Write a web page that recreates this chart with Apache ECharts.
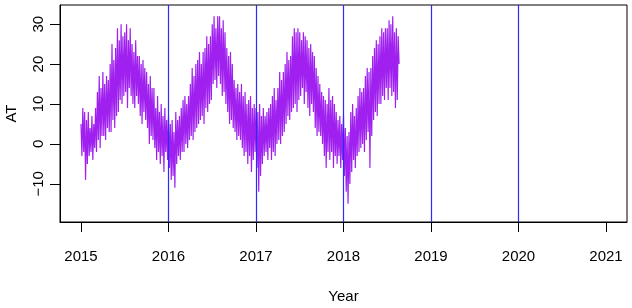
<!DOCTYPE html>
<html>
<head>
<meta charset="utf-8">
<script src="https://cdn.jsdelivr.net/npm/echarts@6/dist/echarts.min.js"></script>
<style>
	html, body { margin: 0; padding: 0; background: #fff; }
	#chart { width: 632px; height: 308px; }
</style>
</head>
<body>
<div id="chart"></div>
<script>
// x axis
var years = [2015, 2016, 2017, 2018, 2019, 2020, 2021];
// blue reference lines
var yearLines = [2016, 2017, 2018, 2019, 2020];
// y axis ticks
var atTicks = [-10, 0, 10, 20, 30];

// AT readings, 8 per month from 2015-01 (high/low swings)
var perYear = 96;
var at2015 = [
	5, -3, 9, -2, 8, -9, 6, -5,
	8, -3, 4, -2, 7, -4, 5, -1,
	9, -2, 13, 1, 17, -1, 14, 2,
	18, 2, 15, 1, 17, 4, 16, 3,
	20, 3, 25, 6, 21, 4, 24, 7,
	29, 8, 26, 11, 30, 10, 27, 12,
	28, 13, 30, 9, 26, 14, 29, 12,
	25, 10, 23, 9, 26, 12, 22, 10,
	22, 7, 20, 5, 21, 8, 19, 6,
	18, 4, 15, 0, 17, 2, 14, 1,
	14, -1, 9, -4, 12, -2, 8, -5,
	10, -3, 7, -7, 9, -2, 6, -4
];
var at2016 = [
	7, -6, 5, -9, 6, -8, 3, -11,
	8, -5, 6, -3, 7, -4, 9, -2,
	11, -2, 12, 0, 10, -1, 12, 1,
	15, 2, 19, 1, 17, 3, 20, 4,
	21, 5, 23, 6, 20, 7, 23, 5,
	24, 9, 27, 8, 25, 10, 27, 11,
	30, 15, 32, 16, 29, 14, 32, 17,
	32, 15, 29, 12, 31, 13, 28, 10,
	24, 8, 22, 5, 23, 6, 20, 4,
	16, 3, 14, 1, 15, 2, 13, 1,
	15, -1, 12, -3, 13, -2, 10, -5,
	11, -3, 12, -7, 9, -4, 10, -2
];
var at2017 = [
	9, -6, 8, -12, 10, -8, 7, -5,
	9, -3, 7, -2, 8, -4, 9, -1,
	10, -4, 12, -2, 14, -3, 11, 0,
	14, 1, 18, 0, 16, 2, 18, 3,
	20, 5, 23, 7, 21, 6, 22, 8,
	27, 9, 29, 10, 28, 8, 29, 11,
	28, 12, 26, 14, 28, 10, 27, 13,
	26, 9, 24, 7, 25, 10, 23, 8,
	22, 4, 19, 2, 17, 3, 15, 2,
	13, 0, 12, -3, 11, -6, 10, -2,
	14, -4, 11, -2, 12, -6, 10, -3,
	8, -5, 6, -3, 7, -6, 5, -4
];
var at2018 = [
	7, -8, 4, -12, 2, -15, 3, -10,
	8, -7, 10, -4, 7, -6, 9, -3,
	12, -2, 14, -1, 13, 0, 14, -2,
	17, 1, 19, 3, 18, -6, 19, 2,
	22, 6, 24, 8, 26, 7, 25, 10,
	27, 10, 29, 12, 28, 11, 29, 14,
	29, 11, 31, 14, 30, 12, 32, 13,
	28, 9, 29, 11, 27, 20
];

var atValues = at2015.concat(at2016, at2017, at2018);
var atData = [];
for (var i = 0; i < atValues.length; i++) {
	atData.push([years[0] + i / perYear, atValues[i]]);
}

var font = '"Liberation Sans Narrow", "Arial Narrow", "Liberation Sans", sans-serif';
var blue = '#2A2AFF';

var myChart = echarts.init(document.getElementById('chart'));

var option = {
	animation: false,
	backgroundColor: '#fff',
	grid: {
		left: 60,
		top: 5,
		width: 567,
		height: 217,
		outerBoundsMode: 'none',
		containLabel: false,
		show: true,
		borderColor: '#000',
		borderWidth: 1,
		backgroundColor: 'transparent'
	},
	xAxis: {
		type: 'value',
		min: 2014.76,
		max: 2021.24,
		name: 'Year',
		nameLocation: 'middle',
		nameGap: 67,
		nameTextStyle: { color: '#000', fontSize: 15, fontFamily: font },
		axisLine: { show: true, onZero: false, lineStyle: { color: '#000', width: 1 } },
		splitLine: { show: false },
		axisTick: {
			show: true,
			customValues: years,
			length: 10,
			lineStyle: { color: '#000', width: 1 }
		},
		axisLabel: {
			customValues: years,
			margin: 27,
			color: '#000',
			fontSize: 15,
			fontFamily: font,
			formatter: function (v) { return String(v); }
		}
	},
	yAxis: {
		type: 'value',
		min: -19.55,
		max: 34.8,
		name: 'AT',
		nameLocation: 'middle',
		nameGap: 41,
		nameTextStyle: { color: '#000', fontSize: 15, fontFamily: font },
		axisLine: { show: true, onZero: false, lineStyle: { color: '#000', width: 1 } },
		splitLine: { show: false },
		axisTick: {
			show: true,
			customValues: atTicks,
			length: 10,
			lineStyle: { color: '#000', width: 1 }
		},
		axisLabel: {
			customValues: atTicks,
			rotate: 90,
			margin: 14,
			color: '#000',
			fontSize: 15,
			fontFamily: font,
			formatter: function (v) { return String(v).replace('-', '\u2212'); }
		}
	},
	series: [{
		type: 'line',
		data: atData,
		showSymbol: false,
		lineStyle: { color: '#A020F0', width: 1.2 },
		markLine: {
			silent: true,
			symbol: 'none',
			label: { show: false },
			lineStyle: { color: blue, width: 1.2, type: 'solid', opacity: 1 },
			data: yearLines.map(function (y) {
				return { xAxis: y, lineStyle: { color: blue, width: 1.2, type: 'solid' } };
			})
		}
	}]
};

myChart.setOption(option);
</script>
</body>
</html>
